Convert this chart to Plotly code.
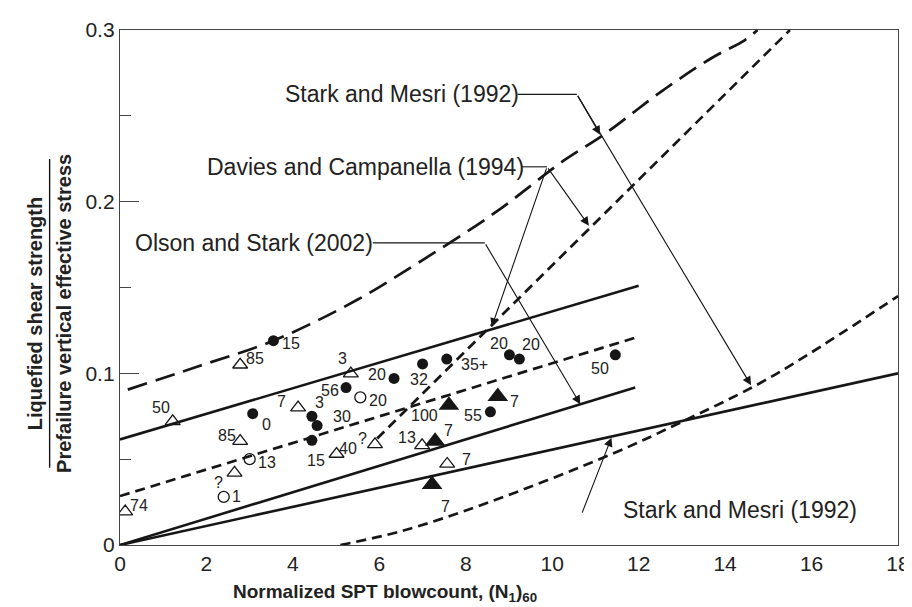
import plotly.graph_objects as go

# ---- data ----
# filled circles
fc_x = [3.55, 3.07, 4.44, 4.56, 4.44, 5.23, 6.34, 7.0, 7.56, 8.57, 9.01, 9.24, 11.46]
fc_y = [0.119, 0.0765, 0.075, 0.0696, 0.061, 0.0917, 0.097, 0.1055, 0.1083, 0.0776, 0.1108, 0.1083, 0.1108]
fc_lab = ["15", "0", "3", "30", "15", "56", "20", "32", "35+", "55", "20", "20", "50"]

# open circles
oc_x = [3.0, 2.4, 5.56]
oc_y = [0.050, 0.028, 0.086]
oc_lab = ["13", "1", "20"]

# open triangles
ot_x = [2.78, 1.22, 4.12, 2.78, 2.65, 0.12, 5.34, 6.99, 5.01, 5.9, 7.57]
ot_y = [0.105, 0.072, 0.080, 0.0605, 0.042, 0.0195, 0.0998, 0.058, 0.053, 0.0586, 0.0472]
ot_lab = ["85", "50", "7", "85", "?", "74", "3", "13", "40", "?", "7"]

# filled triangles
ft_x = [7.61, 8.74, 7.29, 7.22]
ft_y = [0.0814, 0.0865, 0.0605, 0.0353]
ft_lab = ["100", "7", "7", "7"]

# relationship lines
os_up_x = [0, 12]
os_up_y = [0.0615, 0.151]
os_lo_x = [0, 11.92]
os_lo_y = [0, 0.0917]
os_mid_x = [0, 12.03]
os_mid_y = [0.0285, 0.1216]
sm_lo_x = [0, 18]
sm_lo_y = [0, 0.100]
dc_x = [5.95, 15.5]
dc_y = [0.062, 0.300]
sm_up_x = [0.18, 1.8, 3.55, 5.5, 7.0, 8.7, 10.27, 11.19, 12.57, 13.71, 14.45, 14.75]
sm_up_y = [0.0905, 0.104, 0.119, 0.143, 0.166, 0.194, 0.224, 0.239, 0.265, 0.284, 0.294, 0.300]
sm_dash_x = [5.1, 6.5, 8.44, 11.38, 13.02, 15.0, 18.0]
sm_dash_y = [0.0, 0.008, 0.024, 0.053, 0.072, 0.097, 0.145]

# label offsets in pixels (dx, dy up)
fc_off = [(18, -3), (14, -11), (8, 14), (25, 9), (4, -20), (-16, -3), (-17, 4), (-4, -16), (28, -5),
          (-17, -4), (-10, 11), (12, 15), (-15, -14)]
oc_off = [(17, -3), (13, 0), (18, -3)]
ot_off = [(15, 6), (-12, 14), (-17, 6), (-13, 6), (-16, -10), (14, 6), (-8, 15), (-15, 8), (11, 6), (-13, 6), (19, 4)]
ft_off = [(-24, -10), (17, -5), (13, 11), (13, -22)]

BLACK = "#161616"
FONT = "Liberation Sans, Arial, sans-serif"
NARROW = "Liberation Sans Narrow, Arial Narrow, Arial"


def px(xp, yp):
    # pixel position in the page -> paper coords
    return (xp - 112) / 785, (537 - yp) / 527


fig = go.Figure()


def add_line(xs, ys, dash="solid", width=2.6, shape="linear"):
    fig.add_trace(go.Scatter(x=xs, y=ys, mode="lines",
                             line=dict(color=BLACK, width=width, dash=dash, shape=shape),
                             hoverinfo="skip", showlegend=False))


add_line(os_up_x, os_up_y)
add_line(os_lo_x, os_lo_y)
add_line(sm_lo_x, sm_lo_y)
add_line(os_mid_x, os_mid_y, dash="10px,6px", width=2.7)
add_line(dc_x, dc_y, dash="10px,6px", width=2.7)
add_line(sm_dash_x, sm_dash_y, dash="10px,6px", width=2.7, shape="spline")
add_line(sm_up_x, sm_up_y, dash="20px,9px", width=2.7, shape="spline")

fig.add_trace(go.Scatter(x=fc_x, y=fc_y, mode="markers", marker=dict(symbol="circle", size=11, color=BLACK),
                         showlegend=False))
fig.add_trace(go.Scatter(x=oc_x, y=oc_y, mode="markers",
                         marker=dict(symbol="circle-open", size=11, color=BLACK, line=dict(width=1.3)),
                         showlegend=False))
fig.add_trace(go.Scatter(x=ot_x, y=ot_y, mode="markers",
                         marker=dict(symbol="triangle-up-open", size=13, color=BLACK, line=dict(width=1.3)),
                         showlegend=False))
fig.add_trace(go.Scatter(x=ft_x, y=ft_y, mode="markers", marker=dict(symbol="triangle-up", size=18, color=BLACK),
                         showlegend=False))

# point labels
for xs, ys, labs, offs in [(fc_x, fc_y, fc_lab, fc_off), (oc_x, oc_y, oc_lab, oc_off),
                           (ot_x, ot_y, ot_lab, ot_off), (ft_x, ft_y, ft_lab, ft_off)]:
    for x, y, t, (dx, dy) in zip(xs, ys, labs, offs):
        fig.add_annotation(x=x, y=y, text=t, showarrow=False, xshift=dx, yshift=dy,
                           font=dict(family=FONT, size=16, color="#222"))


# relationship labels
def lab(x, y, t):
    fig.add_annotation(x=x, y=y, text=t, showarrow=False, xanchor="left",
                       font=dict(family=FONT, size=23, color="#222"))


lab(3.76, 0.263, "Stark and Mesri (1992)")
lab(1.97, 0.220, "Davies and Campanella (1994)")
lab(0.3, 0.176, "Olson and Stark (2002)")
lab(11.6, 0.0205, "Stark and Mesri (1992)")


def leader(x0, y0, x1, y1):
    fig.add_shape(type="line", x0=x0, y0=y0, x1=x1, y1=y1, line=dict(color=BLACK, width=1.1))


def arrow(x0, y0, x1, y1):
    fig.add_annotation(x=x1, y=y1, ax=x0, ay=y0, xref="x", yref="y", axref="x", ayref="y", text="",
                       showarrow=True, arrowhead=2, arrowsize=1.6, arrowwidth=1.1, arrowcolor=BLACK)


leader(9.2, 0.2625, 10.57, 0.2625)
arrow(10.57, 0.2625, 11.11, 0.239)
arrow(10.57, 0.2625, 14.6, 0.093)

leader(9.3, 0.2203, 9.88, 0.2203)
arrow(9.88, 0.2203, 10.85, 0.186)
arrow(9.88, 0.2203, 8.6, 0.127)

leader(5.85, 0.176, 8.44, 0.176)
arrow(8.44, 0.176, 10.65, 0.082)

arrow(10.68, 0.018, 11.37, 0.0625)

# axis titles
tx, ty = px(379, 586)
fig.add_annotation(xref="paper", yref="paper", x=tx, y=ty, xanchor="center", yanchor="middle",
                   text="<b>Normalized SPT blowcount, (N<sub>1</sub>)<sub>60</sub></b>", showarrow=False,
                   font=dict(family=NARROW, size=19, color="#222"))
tx, ty = px(27, 300)
fig.add_annotation(xref="paper", yref="paper", x=tx, y=ty, xanchor="center", yanchor="middle", textangle=-90,
                   text="<b>Liquefied shear strength</b>", showarrow=False,
                   font=dict(family=NARROW, size=20, color="#222"))
tx, ty = px(56, 300)
fig.add_annotation(xref="paper", yref="paper", x=tx, y=ty, xanchor="center", yanchor="middle", textangle=-90,
                   text="<b>Prefailure vertical effective stress</b>", showarrow=False,
                   font=dict(family=NARROW, size=20, color="#222"))
bx, by0 = px(41, 142)
_, by1 = px(41, 458)
fig.add_shape(type="line", xref="paper", yref="paper", x0=bx, x1=bx, y0=by0, y1=by1,
              line=dict(color=BLACK, width=1.4))

fig.update_xaxes(range=[0, 18], tickvals=[0, 2, 4, 6, 8, 10, 12, 14, 16, 18], ticks="", showgrid=False,
                 zeroline=False, showline=True, linecolor="#444", linewidth=1.3, mirror=True,
                 ticklabeloverflow="allow",
                 tickfont=dict(family=FONT, size=21, color="#222"))
fig.update_yaxes(range=[0, 0.3], tickvals=[0, 0.1, 0.2, 0.3], ticktext=["0", "0.1", "0.2", "0.3"],
                 ticks="inside", ticklen=19, tickwidth=1.2, tickcolor="#444",
                 minor=dict(tickvals=[0.05, 0.15, 0.25], ticks="inside", ticklen=11, tickwidth=1.2,
                            tickcolor="#444"),
                 showgrid=False, zeroline=False, showline=True, linecolor="#444", linewidth=1.3, mirror=True,
                 ticklabeloverflow="allow",
                 tickfont=dict(family=FONT, size=21, color="#222"))

fig.update_layout(width=912, height=607, margin=dict(l=112, r=15, t=10, b=70),
                  plot_bgcolor="white", paper_bgcolor="white", showlegend=False)

fig.write_html("out.html")
